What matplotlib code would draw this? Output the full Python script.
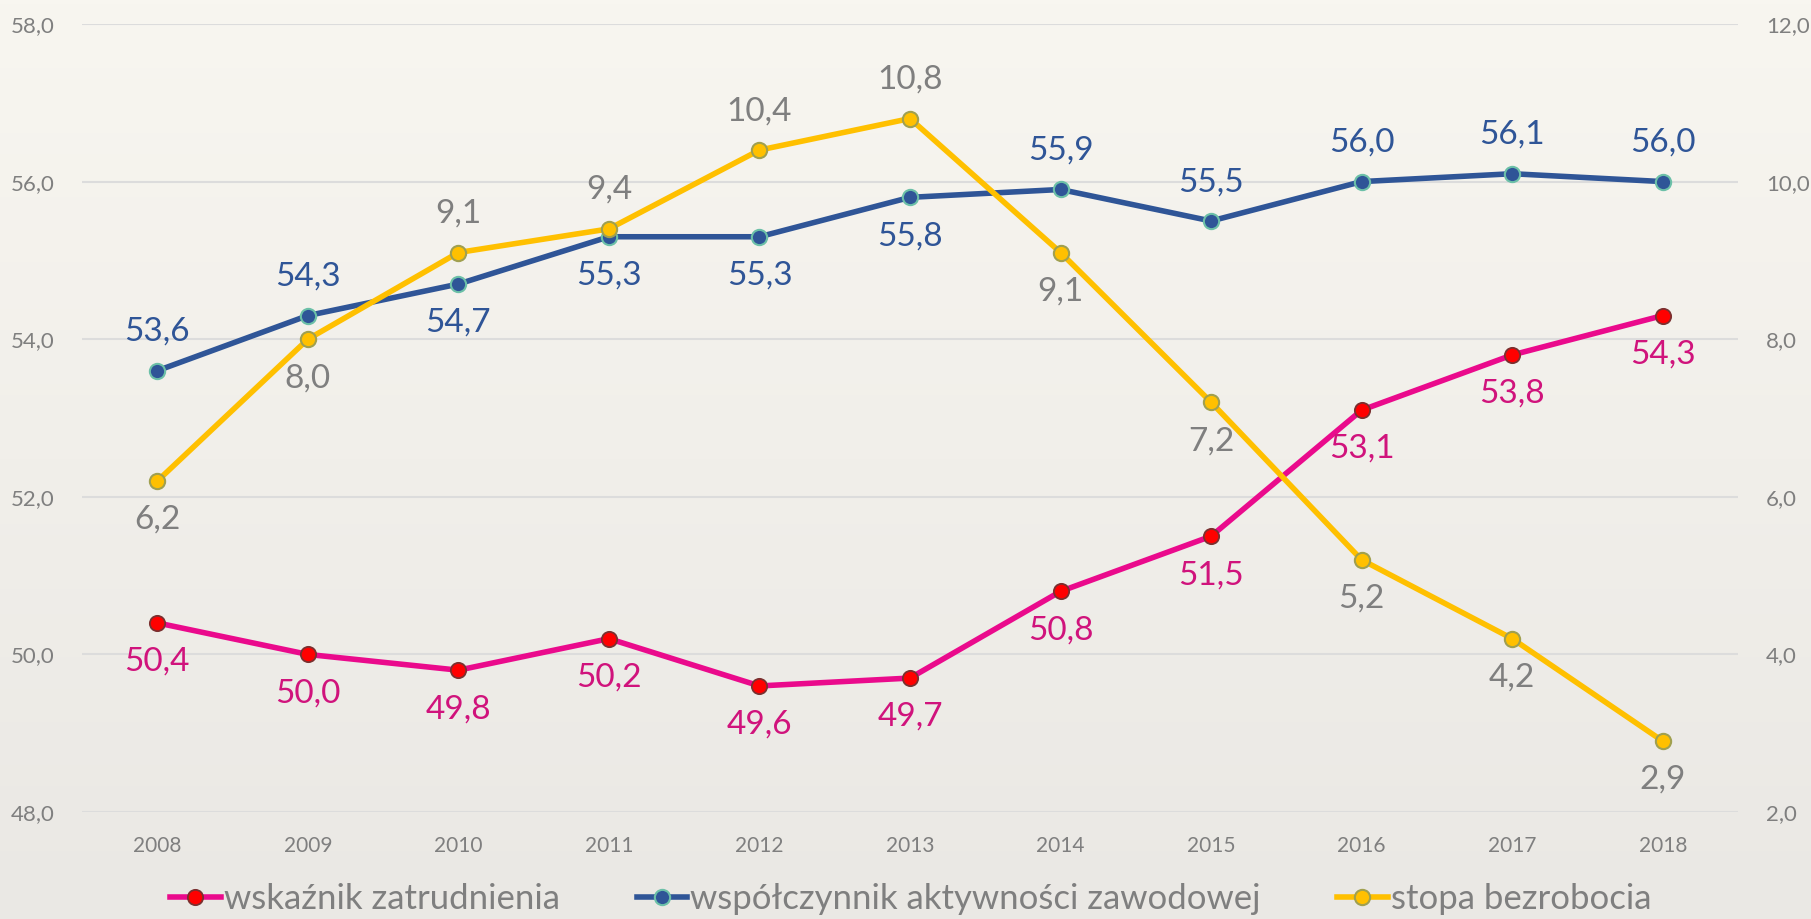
import numpy as np
import matplotlib
matplotlib.use('Agg')
from matplotlib import pyplot as plt
from matplotlib.ticker import FuncFormatter

# dane
lata = ['2008', '2009', '2010', '2011', '2012', '2013', '2014', '2015', '2016', '2017', '2018']
zatrudnienie = [50.4, 50.0, 49.8, 50.2, 49.6, 49.7, 50.8, 51.5, 53.1, 53.8, 54.3]
aktywnosc = [53.6, 54.3, 54.7, 55.3, 55.3, 55.8, 55.9, 55.5, 56.0, 56.1, 56.0]
bezrobocie = [6.2, 8.0, 9.1, 9.4, 10.4, 10.8, 9.1, 7.2, 5.2, 4.2, 2.9]

# polozenie etykiet: 1 = nad punktem, -1 = pod punktem
poz_zatr = [-1] * 11
poz_akt = [1, 1, -1, -1, -1, -1, 1, 1, 1, 1, 1]
poz_bezr = [-1, -1, 1, 1, 1, 1, -1, -1, -1, -1, -1]

PINK = '#ea0a8c'
NAVY = '#2f5597'
YELLOW = '#ffc000'
GREY = '#7f7f7f'

label_font = ['Lato', 'DejaVu Sans']
tick_font = ['Liberation Sans Narrow', 'Lato', 'DejaVu Sans']

fig = plt.figure(figsize=(18.11, 9.19), dpi=100)

# tlo - lekki gradient
bg = fig.add_axes([0, 0, 1, 1], zorder=-10)
grad = np.linspace(0, 1, 256).reshape(-1, 1)
c_top = np.array([0xf8, 0xf6, 0xf0]) / 255
c_bot = np.array([0xea, 0xe8, 0xe4]) / 255
img = c_top[None, None, :] * (1 - grad[:, :, None]) + c_bot[None, None, :] * grad[:, :, None]
bg.imshow(img, aspect='auto', extent=[0, 1, 0, 1])
bg.axis('off')

ax = fig.add_axes([0.0453, 0.1164, 0.9144, 0.8575])
ax.patch.set_alpha(0)
ax2 = ax.twinx()
ax2.patch.set_alpha(0)

x = np.arange(len(lata))

ax.set_xlim(-0.5, len(lata) - 0.5)
ax.set_ylim(48, 58)
ax2.set_ylim(2, 12)
ax.set_yticks(np.arange(48, 58.1, 2))
ax2.set_yticks(np.arange(2, 12.1, 2))
fmt = FuncFormatter(lambda v, p: f'{v:.1f}'.replace('.', ','))
ax.yaxis.set_major_formatter(fmt)
ax2.yaxis.set_major_formatter(fmt)
ax.set_xticks(x)
ax.set_xticklabels(lata)

ax.grid(axis='y', color='#dcdcdc', linewidth=1.5)
ax.set_axisbelow(True)
for a in (ax, ax2):
    for s in a.spines.values():
        s.set_visible(False)
    a.tick_params(length=0, colors=GREY)
ax.tick_params(axis='y', pad=20, labelsize=16)
ax2.tick_params(axis='y', pad=20, labelsize=16)
ax.tick_params(axis='x', pad=17, labelsize=15)
for t in ax.get_xticklabels() + ax.get_yticklabels() + ax2.get_yticklabels():
    t.set_family(tick_font)

l1, = ax.plot(x, zatrudnienie, color=PINK, lw=4, marker='o', ms=11,
              mfc='#ff0000', mec='#7a3030', mew=1.3, label='wskaźnik zatrudnienia', zorder=3)
l2, = ax.plot(x, aktywnosc, color=NAVY, lw=4, marker='o', ms=11,
              mfc=NAVY, mec='#6cc0a8', mew=1.5, label='współczynnik aktywności zawodowej', zorder=3)
l3, = ax2.plot(x, bezrobocie, color=YELLOW, lw=4, marker='o', ms=11,
               mfc=YELLOW, mec='#a0a050', mew=1.5, label='stopa bezrobocia', zorder=3)

def etykiety(a, wart, poz, kolor):
    for xi, v, p in zip(x, wart, poz):
        a.annotate(f'{v:.1f}'.replace('.', ','), (xi, v), xytext=(0, 28 * p),
                   textcoords='offset points', ha='center', va='center',
                   fontsize=24, color=kolor, family=label_font)

etykiety(ax, zatrudnienie, poz_zatr, '#d0137c')
etykiety(ax, aktywnosc, poz_akt, NAVY)
etykiety(ax2, bezrobocie, poz_bezr, GREY)

leg = fig.legend(handles=[l1, l2, l3], loc='center', bbox_to_anchor=(0.503, 0.022),
                 ncol=3, frameon=False, handlelength=1.45,
                 handletextpad=0.1, columnspacing=2.2,
                 prop={'family': label_font, 'size': 25})
for t in leg.get_texts():
    t.set_color(GREY)

fig.savefig('out.png', dpi=100)
